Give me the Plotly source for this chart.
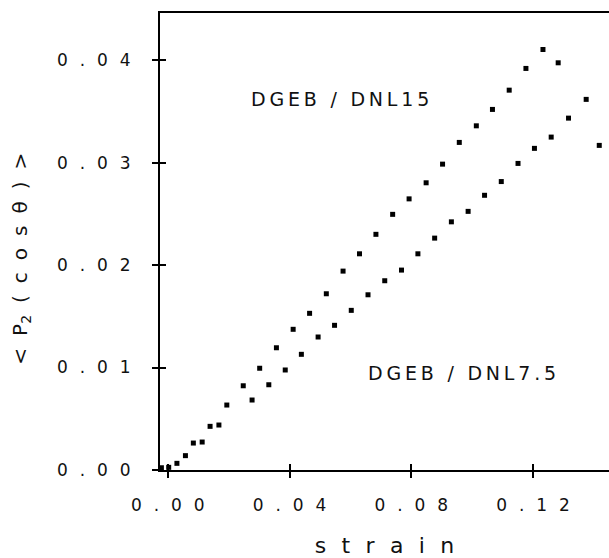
import plotly.graph_objects as go

# ---- data ----
strain_dnl15 = [-0.0021, 0.0030, 0.0084, 0.0139, 0.0194, 0.0248, 0.0302, 0.0357,
                0.0412, 0.0466, 0.0521, 0.0576, 0.0630, 0.0684, 0.0739, 0.0793,
                0.0849, 0.0903, 0.0958, 0.1014, 0.1067, 0.1122, 0.1177, 0.1233, 0.1283]
p2_dnl15 = [0.00022, 0.00065, 0.00263, 0.00426, 0.00634, 0.00822, 0.00993, 0.01193,
            0.01373, 0.01529, 0.01720, 0.01941, 0.02110, 0.02300, 0.02495, 0.02646,
            0.02803, 0.02985, 0.03197, 0.03359, 0.03519, 0.03707, 0.03919, 0.04104, 0.03974]

strain_dnl75 = [0.0003, 0.0058, 0.0113, 0.0168, 0.0277, 0.0332, 0.0386, 0.0439,
                0.0494, 0.0548, 0.0603, 0.0658, 0.0713, 0.0768, 0.0822, 0.0877,
                0.0932, 0.0987, 0.1041, 0.1096, 0.1151, 0.1205, 0.1260, 0.1317, 0.1375, 0.1418]
p2_dnl75 = [0.00026, 0.00140, 0.00273, 0.00439, 0.00683, 0.00832, 0.00976, 0.01129,
            0.01298, 0.01412, 0.01558, 0.01710, 0.01847, 0.01951, 0.02110, 0.02263,
            0.02422, 0.02524, 0.02681, 0.02815, 0.02992, 0.03139, 0.03249, 0.03434, 0.03617, 0.03168]

x_ticks = [0.00, 0.04, 0.08, 0.12]
x_tick_labels = ["0.00", "0.04", "0.08", "0.12"]
y_ticks = [0.00, 0.01, 0.02, 0.03, 0.04]
y_tick_labels = ["0.00", "0.01", "0.02", "0.03", "0.04"]

label_15 = "DGEB / DNL15"
label_75 = "DGEB / DNL7.5"
label_15_pos = (0.0566, 0.0362)
label_75_pos = (0.0967, 0.0095)

x_range = [-0.00256, 0.145]
y_range = [0.0, 0.0446]


def spaced(s, sep):
    return sep.join(s)


TICK_SEP = "\u2002\u2009"
FONT = "DejaVu Sans"
INK = "#111111"

fig = go.Figure()
marker = dict(symbol="square", size=5, color="black", line=dict(width=0))
fig.add_trace(go.Scatter(x=strain_dnl15, y=p2_dnl15, mode="markers", marker=marker,
                         name="DGEB / DNL15", showlegend=False))
fig.add_trace(go.Scatter(x=strain_dnl75, y=p2_dnl75, mode="markers", marker=marker,
                         name="DGEB / DNL7.5", showlegend=False))

common_axis = dict(showgrid=False, zeroline=False, linecolor="black", linewidth=2,
                   tickcolor="black", tickwidth=1.5, ticklen=6)

ytitle = "\u2002\u200a".join(["<", "P<sub>2</sub>", "(", "c", "o", "s", "\u03b8", ")", ">"])

fig.update_layout(
    width=609, height=558,
    margin=dict(l=160, r=0, t=13, b=88),
    plot_bgcolor="white", paper_bgcolor="white",
    font=dict(family=FONT, color=INK),
    xaxis=dict(range=x_range, showline=True, mirror=True, ticks="outside",
               tickvals=x_ticks, ticktext=[spaced(t, TICK_SEP) for t in x_tick_labels],
               tickfont=dict(size=17, family=FONT, color=INK), ticklabelstandoff=13,
               title=dict(text=spaced("strain", "\u2002\u2009"),
                          font=dict(size=22, family=FONT, color=INK), standoff=25),
               **common_axis),
    xaxis2=dict(range=x_range, overlaying="x", anchor="y", side="bottom", ticks="inside",
                tickvals=x_ticks, showticklabels=False, showline=False,
                showgrid=False, zeroline=False, tickcolor="black", tickwidth=1.5, ticklen=6),
    yaxis=dict(range=y_range, showline=True, ticks="outside",
               tickvals=y_ticks, ticktext=[spaced(t, TICK_SEP) for t in y_tick_labels],
               tickfont=dict(size=17, family=FONT, color=INK), ticklabelstandoff=18,
               **common_axis),
    yaxis2=dict(range=y_range, overlaying="y", anchor="x", side="left", ticks="inside",
                tickvals=y_ticks, showticklabels=False, showline=False,
                showgrid=False, zeroline=False, tickcolor="black", tickwidth=1.5, ticklen=6),
)

# invisible helper trace so the overlay tick axes render
fig.add_trace(go.Scatter(x=[x_range[0]], y=[y_range[0]], xaxis="x2", yaxis="y2",
                         mode="markers", marker=dict(opacity=0), showlegend=False,
                         hoverinfo="skip"))

# y-axis title (rotated annotation, lower than the plot centre as in the reference)
fig.add_annotation(x=-0.31, y=0.462, xref="paper", yref="paper", text=ytitle,
                   textangle=-90, showarrow=False, xanchor="center", yanchor="middle",
                   font=dict(size=20, family=FONT, color=INK))

for text, (ax, ay) in [(label_15, label_15_pos), (label_75, label_75_pos)]:
    fig.add_annotation(x=ax, y=ay, xref="x", yref="y", text=spaced(text, "\u2009"),
                       showarrow=False, font=dict(size=19, family=FONT, color=INK))

fig.write_html("out.html")
